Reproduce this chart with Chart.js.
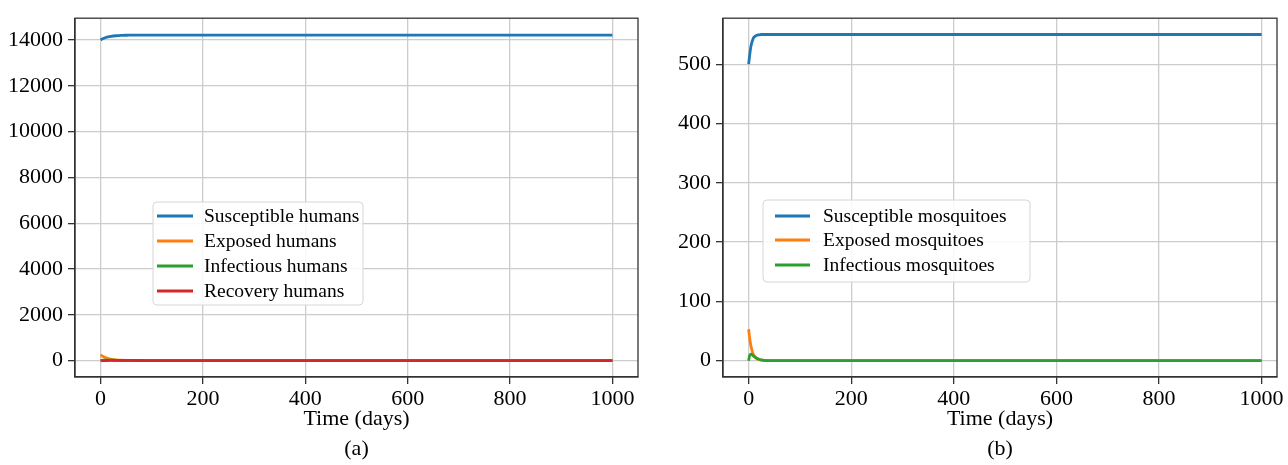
<!DOCTYPE html>
<html>
<head>
<meta charset="utf-8">
<script src="https://cdn.jsdelivr.net/npm/chart.js@4.4.1/dist/chart.umd.min.js"></script>
<style>
  html, body { margin: 0; padding: 0; background: #fff; }
  #wrap { position: relative; width: 1288px; height: 465px; }
  #humanChart { position: absolute; left: 0; top: 0; }
  #mosqChart { position: absolute; left: 645px; top: 0; }
</style>
</head>
<body>
<div id="wrap">
  <canvas id="humanChart" width="645" height="465"></canvas>
  <canvas id="mosqChart" width="643" height="465"></canvas>
</div>
<script>
// Time axis ticks
const timeTicks = [0, 200, 400, 600, 800, 1000];

// Humans (a)
const tHuman = [0, 2, 5, 10, 15, 20, 30, 40, 50, 60, 80, 100, 200, 400, 600, 800, 1000];
const susHumans = [14000, 14030, 14065, 14110, 14140, 14160, 14185, 14200, 14207, 14210, 14213, 14214, 14215, 14215, 14215, 14215, 14215];
const expHumans = [250, 220, 180, 130, 95, 70, 38, 20, 10, 5, 2, 1, 0, 0, 0, 0, 0];
const infHumans = [0, 15, 25, 28, 26, 22, 15, 9, 5, 3, 1, 0, 0, 0, 0, 0, 0];
const recHumans = [0, 2, 5, 8, 10, 11, 12, 12, 11, 10, 8, 6, 2, 0, 0, 0, 0];
const humanTicks = [0, 2000, 4000, 6000, 8000, 10000, 12000, 14000];

// Mosquitoes (b)
const tMosq = [0, 2, 4, 6, 8, 10, 15, 20, 25, 30, 40, 50, 100, 200, 400, 600, 800, 1000];
const susMosq = [500, 515, 528, 536, 541, 545, 548.5, 549.5, 550, 550, 550, 550, 550, 550, 550, 550, 550, 550];
const expMosq = [53, 38, 27, 19, 13, 9, 4, 2, 1, 0.3, 0, 0, 0, 0, 0, 0, 0, 0];
const infMosq = [0, 9, 11, 10.5, 9, 7.5, 4.5, 2.5, 1.2, 0.5, 0.1, 0, 0, 0, 0, 0, 0, 0];
const mosqTicks = [0, 100, 200, 300, 400, 500];

const colors = ['#1f77b4', '#ff7f0e', '#2ca02c', '#d62728'];
const serif = 'Liberation Serif';

function series(xs, ys, label, color, idx) {
  return {
    label: label,
    data: xs.map((x, i) => ({ x: x, y: ys[i] })),
    borderColor: color,
    backgroundColor: color,
    borderWidth: 2.8,
    pointRadius: 0,
    tension: 0.3,
    fill: false,
    order: -idx // later series drawn on top, like matplotlib
  };
}

// frame around the plot area + legend box inside it
const framePlugin = {
  id: 'frame',
  afterDatasetsDraw(chart, args, opts) {
    const ctx = chart.ctx;
    const a = chart.chartArea;
    ctx.save();
    ctx.strokeStyle = '#333';
    ctx.lineWidth = 1.3;
    ctx.strokeRect(a.left, a.top, a.right - a.left, a.bottom - a.top);

    const b = opts.box;
    ctx.beginPath();
    ctx.roundRect(b.x, b.y, b.w, b.h, 4);
    ctx.fillStyle = 'rgba(255,255,255,0.85)';
    ctx.fill();
    ctx.strokeStyle = '#d6d6d6';
    ctx.lineWidth = 1;
    ctx.stroke();

    ctx.font = '19.5px "' + serif + '"';
    ctx.textBaseline = 'middle';
    ctx.fillStyle = '#000';
    const sets = chart.data.datasets;
    sets.forEach((ds, i) => {
      const y = opts.rows[i];
      ctx.strokeStyle = ds.borderColor;
      ctx.lineWidth = 2.8;
      ctx.beginPath();
      ctx.moveTo(opts.lineX[0], y);
      ctx.lineTo(opts.lineX[1], y);
      ctx.stroke();
      ctx.fillText(ds.label, opts.textX, y + 1);
    });
    ctx.restore();
  }
};

function makeOptions(cfg) {
  return {
    responsive: false,
    animation: false,
    layout: { padding: { top: 9, right: cfg.padRight, bottom: 0, left: 0 } },
    plugins: {
      legend: { display: false },
      tooltip: { enabled: false },
      frame: cfg.legend
    },
    scales: {
      x: {
        type: 'linear',
        min: cfg.xMin,
        max: cfg.xMax,
        afterBuildTicks: s => { s.ticks = timeTicks.map(v => ({ value: v })); },
        afterFit: s => { s.height = 88; },
        grid: { color: '#cccccc', lineWidth: 1.3, tickColor: '#333', tickLength: 7 },
        border: { color: '#333', width: 1.3 },
        ticks: { color: '#000', font: { family: serif, size: 22 }, padding: 2, maxRotation: 0,
                 callback: v => String(v) },
        title: {
          display: true,
          text: ['Time (days)', cfg.tag],
          color: '#000',
          font: { family: serif, size: 22, lineHeight: 1.4 },
          padding: { top: 0, bottom: 0 }
        }
      },
      y: {
        min: cfg.yMin,
        max: cfg.yMax,
        afterBuildTicks: s => { s.ticks = cfg.yTicks.map(v => ({ value: v })); },
        afterFit: s => { s.width = cfg.yWidth; },
        grid: { color: '#cccccc', lineWidth: 1.3, tickColor: '#333', tickLength: 7 },
        border: { color: '#333', width: 1.3 },
        ticks: { color: '#000', font: { family: serif, size: 22 }, padding: 5,
                 callback: v => String(v) }
      }
    }
  };
}

new Chart(document.getElementById('humanChart'), {
  type: 'line',
  data: {
    datasets: [
      series(tHuman, susHumans, 'Susceptible humans', colors[0], 0),
      series(tHuman, expHumans, 'Exposed humans', colors[1], 1),
      series(tHuman, infHumans, 'Infectious humans', colors[2], 2),
      series(tHuman, recHumans, 'Recovery humans', colors[3], 3)
    ]
  },
  options: makeOptions({
    padRight: 7, yWidth: 75, xMin: -50, xMax: 1050, yMin: -712, yMax: 14952,
    yTicks: humanTicks, tag: '(a)',
    legend: {
      box: { x: 153, y: 202, w: 210, h: 103 },
      rows: [216, 241, 266, 291],
      lineX: [157, 193],
      textX: 204
    }
  }),
  plugins: [framePlugin]
});

new Chart(document.getElementById('mosqChart'), {
  type: 'line',
  data: {
    datasets: [
      series(tMosq, susMosq, 'Susceptible mosquitoes', colors[0], 0),
      series(tMosq, expMosq, 'Exposed mosquitoes', colors[1], 1),
      series(tMosq, infMosq, 'Infectious mosquitoes', colors[2], 2)
    ]
  },
  options: makeOptions({
    padRight: 11, yWidth: 78, xMin: -50, xMax: 1030, yMin: -27.5, yMax: 577.5,
    yTicks: mosqTicks, tag: '(b)',
    legend: {
      box: { x: 118, y: 200, w: 267, h: 82 },
      rows: [216, 240, 265],
      lineX: [130, 165],
      textX: 178
    }
  }),
  plugins: [framePlugin]
});
</script>
</body>
</html>
